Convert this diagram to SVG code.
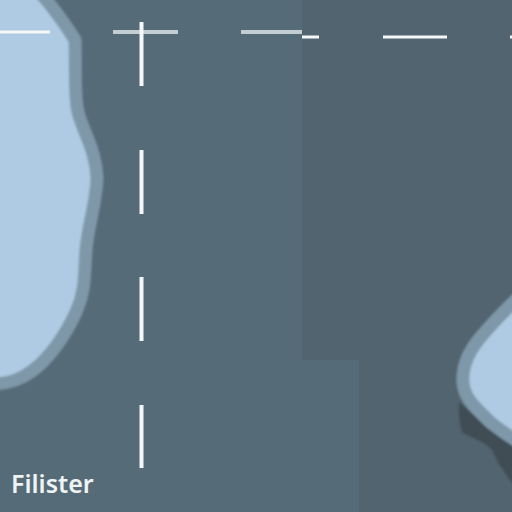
<svg xmlns="http://www.w3.org/2000/svg" width="512" height="512" viewBox="0 0 512 512">
<defs><filter id="soft" x="-10%" y="-10%" width="120%" height="120%"><feGaussianBlur stdDeviation="0.8"/></filter></defs>
<style>
.bank{fill:#afcbe3;stroke:#7f98a9;stroke-width:13;stroke-linejoin:round}
.dash{stroke:#f4f8f8;stroke-width:3;fill:none}
.vdash{stroke:#f4f8f8;stroke-width:4;fill:none}
.grey{stroke:#c3ced3;stroke-width:4;fill:none}
.label{font-family:"Noto Sans","Open Sans",sans-serif;font-size:25px;font-weight:600;fill:#eef3f4}
</style>
<rect width="512" height="512" fill="#566b78"/>
<path d="M302 0H512V512H359V360H302Z" fill="#52646f"/>
<g filter="url(#soft)">
<path d="M459 402C458 415 460 425 462 432C470 438 482 440 490 448C496 454 496 462 502 468C506 474 509 480 514 484V440C490 428 474 416 459 402Z" fill="#3f4e55"/>
<path class="bank" d="M-10 -10H38C50 4 64 22 75 40C76 70 74 95 78 112C83 132 96 150 97 178C96 205 88 225 86 250C84 275 86 290 76 312C66 334 50 358 32 371C20 380 8 384 -10 384Z"/>
<path class="bank" d="M522 294C505 310 490 326 480 338C470 350 462 366 463 382C464 398 474 406 490 422C500 430 510 437 522 444Z"/>
</g>
<g>
<path class="dash" d="M0 32H50"/>
<path class="grey" d="M113 32H178M241 32H302"/>
<path class="dash" d="M302 37H319M383 37H447M510 37H512"/>
<path class="vdash" d="M141.500 22V86M141.500 150V214M141.500 277V341M141.500 405V468"/>
</g>
<text class="label" x="11" y="493">Filister</text>
</svg>
